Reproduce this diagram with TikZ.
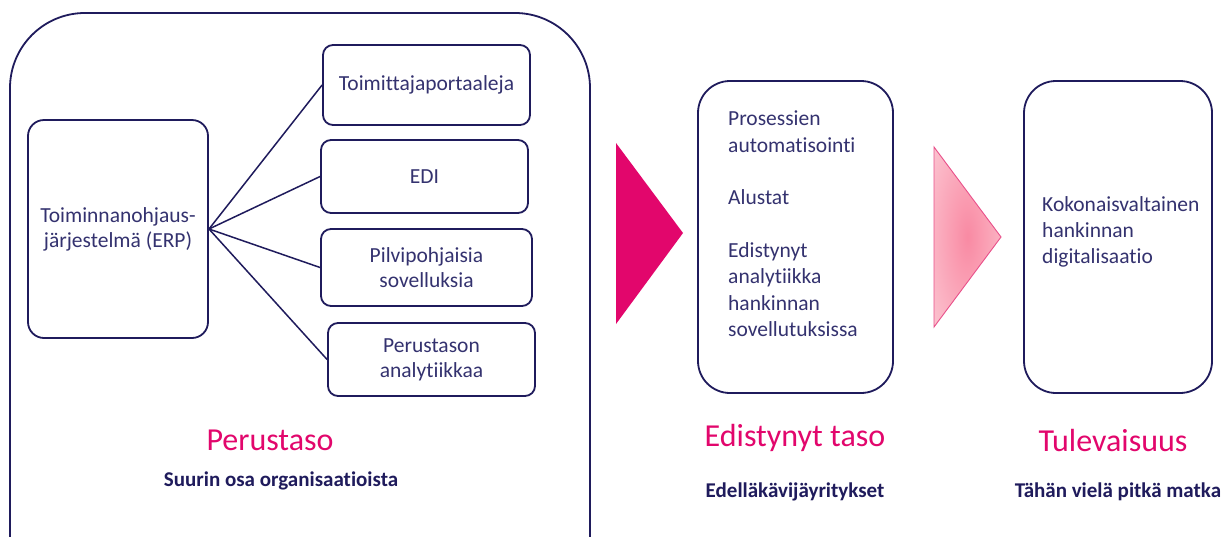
\documentclass[tikz,border=0pt]{standalone}
\usepackage{fontspec}
\setmainfont{Carlito}[Ligatures=NoCommon]
\begin{document}
\definecolor{navy}{HTML}{1F1B5C}
\definecolor{inktext}{HTML}{34326F}
\definecolor{magenta}{HTML}{E2066C}
\definecolor{rosecore}{HTML}{F98AA3}
\definecolor{roseedge}{HTML}{FCD0DA}
\definecolor{roseline}{HTML}{E9508A}
\pgfdeclareradialshading{rosefade}{\pgfpoint{0bp}{0bp}}{color(0bp)=(rosecore); color(44bp)=(roseedge); color(50bp)=(roseedge)}
\begin{tikzpicture}[x=1pt,y=-1pt,
  frame/.style={draw=navy,line width=1.8pt,rounded corners=#1,inner sep=0pt},
  frame/.default=10pt,
  item/.style={frame,text=inktext,font=\fontsize{21.5}{25}\selectfont,align=center},
  link/.style={draw=navy,line width=1.5pt},
  heading/.style={text=magenta,font=\fontsize{32}{36}\selectfont},
  subtitle/.style={text=navy,font=\bfseries\fontsize{21}{24}\selectfont},
  bodytext/.style={text=inktext,font=\fontsize{21.5}{26.3}\selectfont,align=left,anchor=north west,inner sep=0pt}
]
\useasboundingbox (0,0) rectangle (1222,536);
\fill[white] (0,0) rectangle (1222,536);

% outer frame of the basic level, running past the bottom edge
\begin{scope}
  \clip (0,0) rectangle (1222,536);
  \node[frame=75pt,minimum width=580pt,minimum height=600pt] (base) at (300,313) {};
\end{scope}

% ERP and the systems connected to it
\node[item,rounded corners=16pt,minimum width=180pt,minimum height=218pt] (erp) at (118,229)
  {Toiminnanohjaus-\\järjestelmä (ERP)};
\node[item,minimum width=207pt,minimum height=80pt] (portal) at (426.5,85) {Toimittajaportaaleja};
\node[item,minimum width=207pt,minimum height=73pt] (edi) at (424.5,176.5) {EDI};
\node[item,minimum width=211pt,minimum height=77pt] (cloud) at (426.5,267.5) {Pilvipohjaisia\\sovelluksia};
\node[item,minimum width=207pt,minimum height=73pt] (basic) at (431.5,359.5) {Perustason\\analytiikkaa};

\coordinate (hub) at (209,229);
\draw[link] (hub) -- (portal.west);
\draw[link] (hub) -- (edi.west);
\draw[link] (hub) -- (cloud.west);
\draw[link] (hub) -- (basic.west);

\node[heading] (t1) at (270,440) {Perustaso};
\node[subtitle] (s1) at (281,481) {Suurin osa organisaatioista};

% first step arrow
\fill[magenta] (616,143) -- (683,233) -- (616,324) -- cycle;

% advanced level
\node[frame=32pt,minimum width=195pt,minimum height=312pt] (adv) at (795.5,237) {};
\node[bodytext] (advtext) at (728,111) {Prosessien\\automatisointi\\[26.3pt]Alustat\\[26.3pt]Edistynyt\\analytiikka\\hankinnan\\sovellutuksissa};
\node[heading] (t2) at (795,438) {Edistynyt taso};
\node[subtitle] (s2) at (795,492) {Edelläkävijäyritykset};

% second step arrow, fading
\shade[shading=rosefade,draw=roseline,line width=0.9pt]
  (934,147) -- (1001,237) -- (934,327) -- cycle;

% future level
\node[frame=32pt,minimum width=188pt,minimum height=312pt] (fut) at (1118,237) {};
\node[bodytext] (futtext) at (1042,196) {Kokonaisvaltainen\\hankinnan\\digitalisaatio};
\node[heading] (t3) at (1113,440) {Tulevaisuus};
\node[subtitle] (s3) at (1118,492) {Tähän vielä pitkä matka};
\end{tikzpicture}
\end{document}
